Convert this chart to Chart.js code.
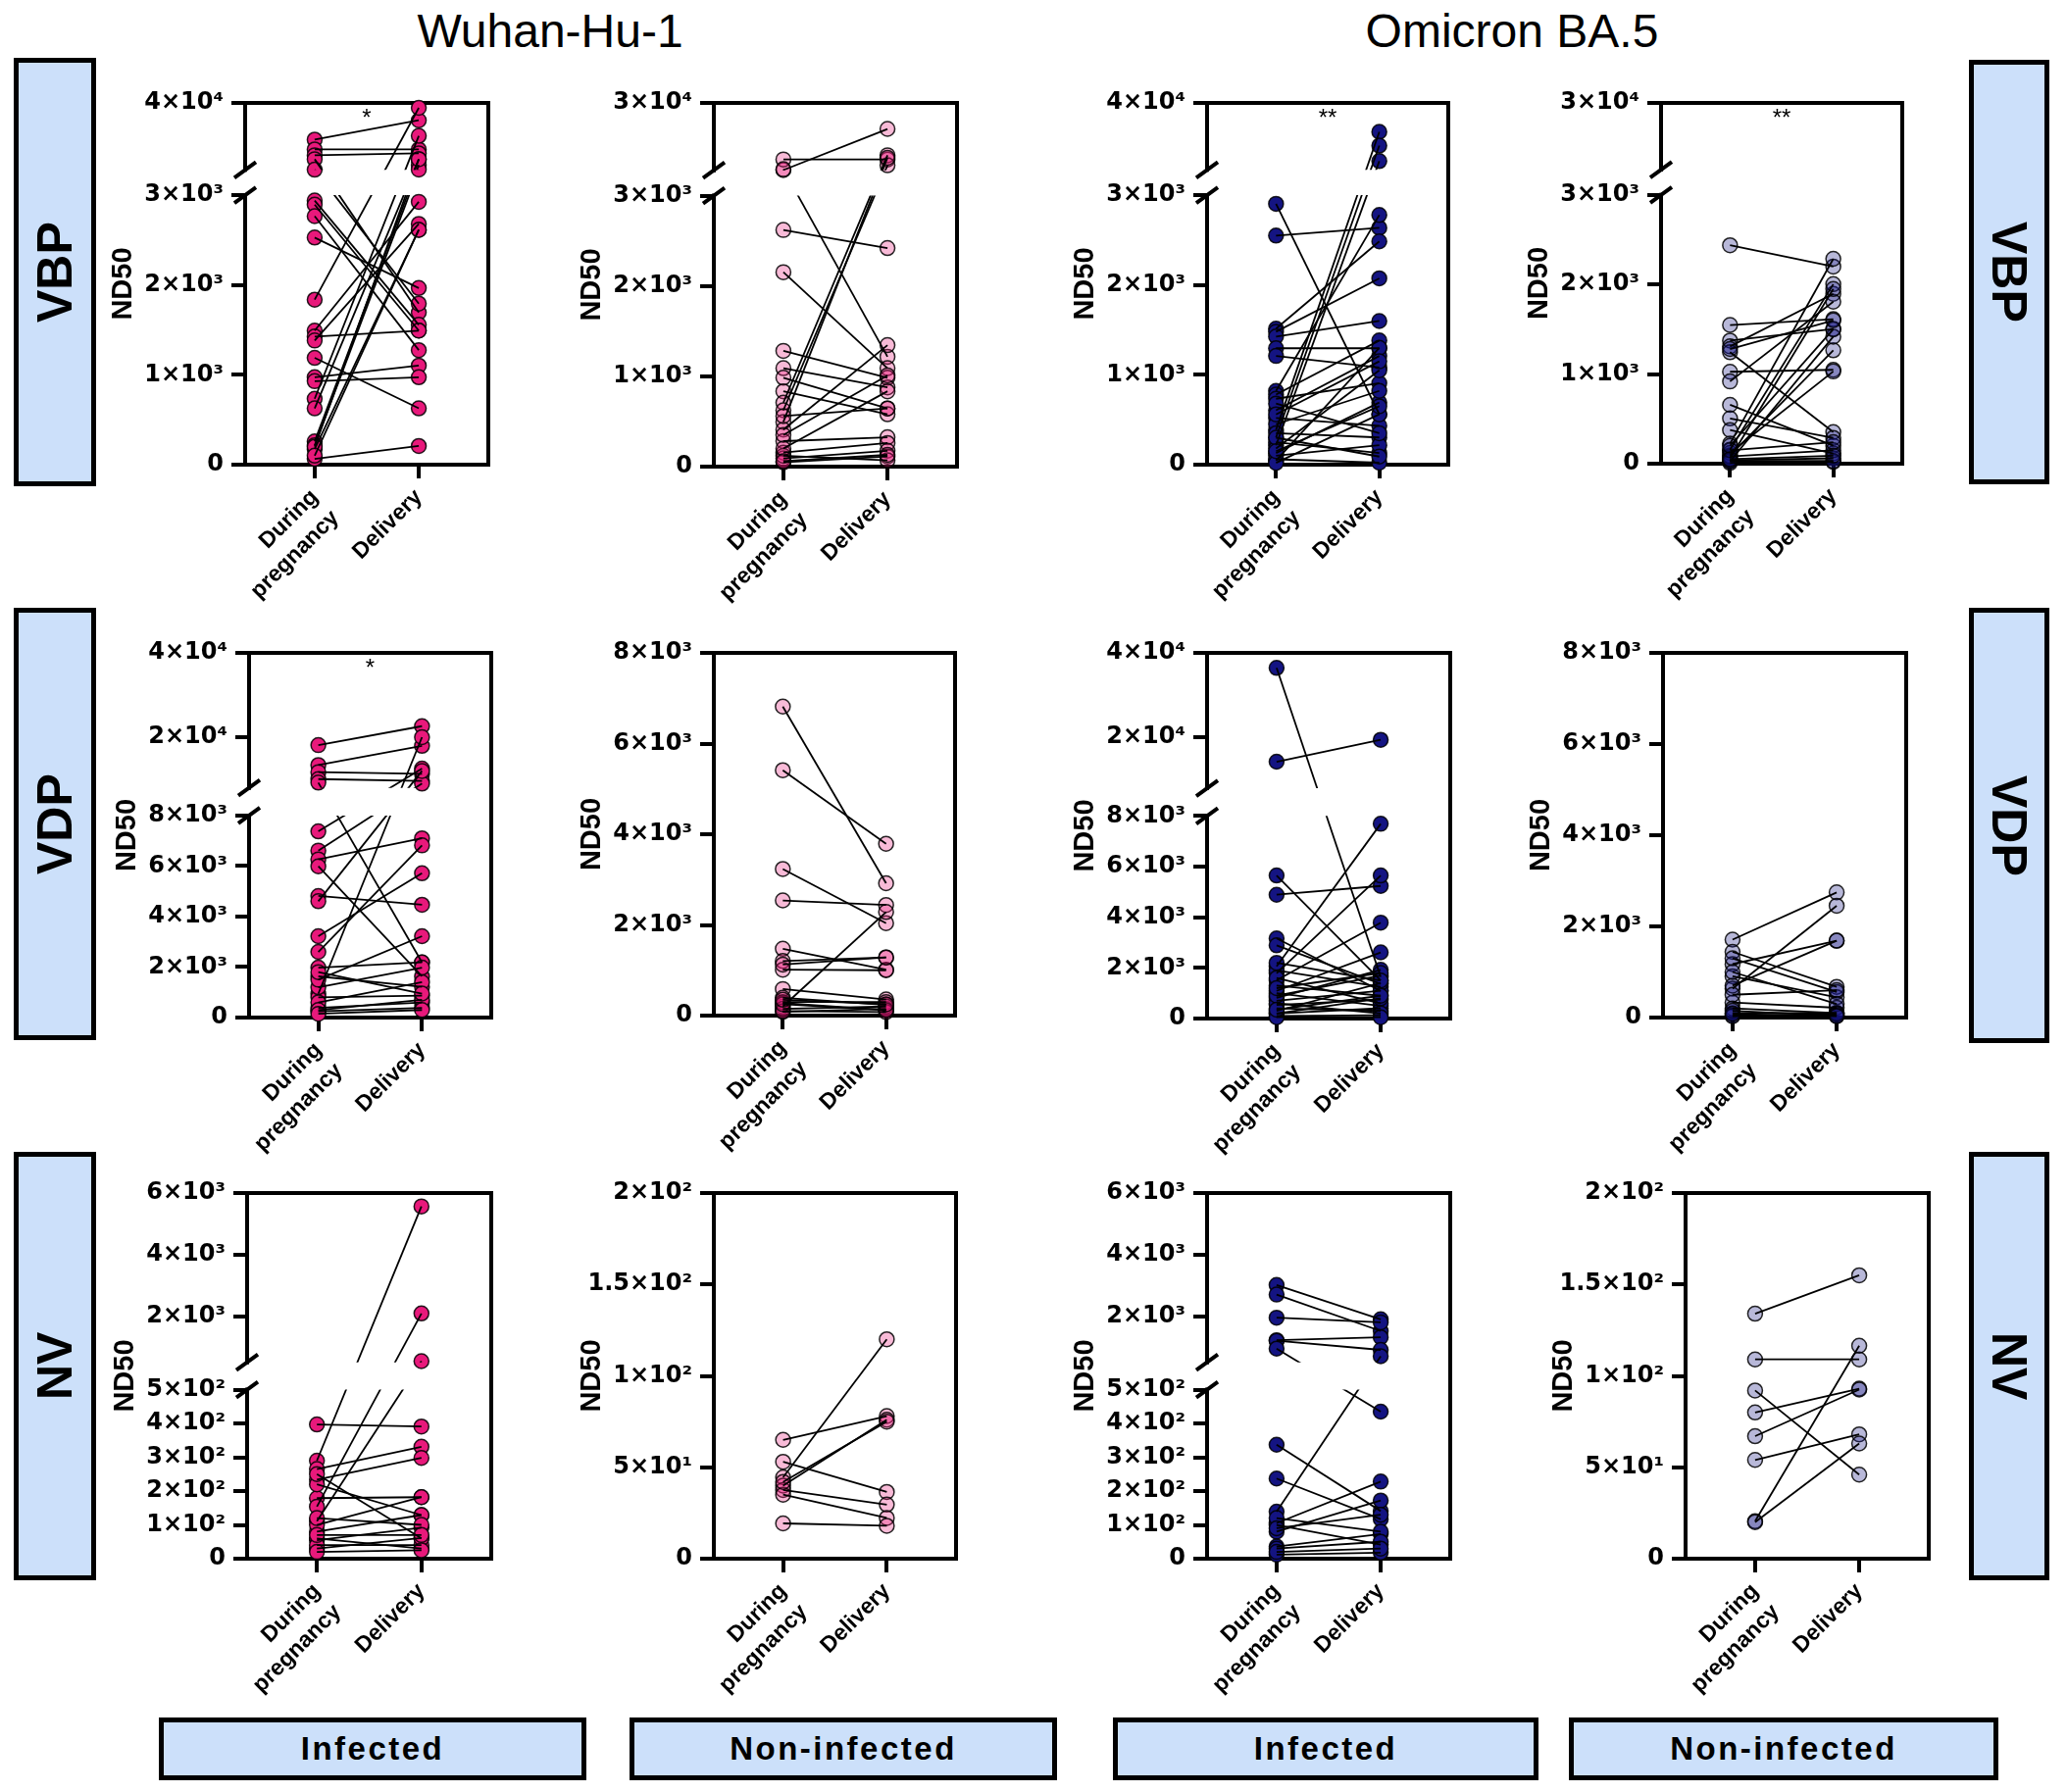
<!DOCTYPE html>
<html>
<head>
<meta charset="utf-8">
<script src="https://cdn.jsdelivr.net/npm/chart.js@4.4.1/dist/chart.umd.min.js"></script>
<style>
  body { margin: 0; background: #fff; width: 2108px; height: 1828px; position: relative; overflow: hidden;
         font-family: "Liberation Sans", Arial, sans-serif; color: #000; }
  .title { position: absolute; top: 8px; width: 600px; font-size: 48px; line-height: 48px; text-align: center; }
  .rowlab { position: absolute; border: 5px solid #000; box-sizing: border-box; background: #cce0fa;
            display: flex; align-items: center; justify-content: center; font-weight: bold; font-size: 50px;
            writing-mode: vertical-rl; }
  .rowlab.left { transform: rotate(180deg); }
  .collab { position: absolute; top: 1752px; height: 64px; border: 5px solid #000; box-sizing: border-box;
            background: #cce0fa; display: flex; align-items: center; justify-content: center;
            font-weight: bold; font-size: 33px; letter-spacing: 2.5px; }
  canvas { position: absolute; }
</style>
</head>
<body>
<div class="title" style="left:261px">Wuhan-Hu-1</div>
<div class="title" style="left:1242px">Omicron BA.5</div>

<div class="rowlab left" style="left:14px;top:59px;width:84px;height:437px">VBP</div>
<div class="rowlab left" style="left:14px;top:620px;width:84px;height:441px">VDP</div>
<div class="rowlab left" style="left:14px;top:1175px;width:84px;height:437px">NV</div>
<div class="rowlab" style="left:2008px;top:61px;width:82px;height:433px">VBP</div>
<div class="rowlab" style="left:2008px;top:620px;width:82px;height:444px">VDP</div>
<div class="rowlab" style="left:2008px;top:1175px;width:82px;height:437px">NV</div>

<div class="collab" style="left:162px;width:436px">Infected</div>
<div class="collab" style="left:642px;width:436px">Non-infected</div>
<div class="collab" style="left:1135px;width:434px">Infected</div>
<div class="collab" style="left:1600px;width:438px">Non-infected</div>

<script>
// categorías del eje x
const categories = [["During", "pregnancy"], "Delivery"];

// ticks del eje y
const ticksVbpInf = [0, 1000, 2000, 3000, 40000];
const ticksVbpNon = [0, 1000, 2000, 3000, 30000];
const ticksVdpInf = [0, 2000, 4000, 6000, 8000, 20000, 40000];
const ticksVdpNon = [0, 2000, 4000, 6000, 8000];
const ticksNvInf = [0, 100, 200, 300, 400, 500, 2000, 4000, 6000];
const ticksNvNon = [0, 50, 100, 150, 200];

// ND50 pareados (mismo índice = misma persona)
const wuhanVbpInfPreg = [19700, 14300, 11060, 8900, 3100, 2940, 2895, 2766, 2528, 1837, 1492, 1426, 1382, 1189, 973, 929, 734, 627, 259, 216, 173, 65, 200, 100];
const wuhanVbpInfDel  = [30400, 14300, 12140, 1694, 1793, 1557, 1492, 1275, 1966, 37300, 2926, 1492, 2680, 627, 1103, 973, 21800, 8900, 5700, 3200, 2614, 208, 8900, 2614];

const wuhanVbpNonPreg = [3050, 7330, 3400, 2620, 2153, 1282, 1090, 984, 834, 708, 624, 495, 410, 282, 155, 91, 48, 120, 560, 350, 200, 60];
const wuhanVbpNonDel  = [19560, 7300, 1217, 2420, 1090, 984, 877, 644, 580, 9000, 5000, 8000, 1345, 325, 261, 176, 112, 70, 644, 1010, 834, 130];

const omicronVbpInfPreg = [2904, 2550, 1514, 1480, 1426, 1296, 1210, 821, 780, 734, 605, 519, 389, 303, 216, 130, 44, 450, 350, 250, 100, 60, 180, 680, 560, 20, 300, 150];
const omicronVbpInfDel  = [562, 2636, 2485, 2074, 1599, 1296, 1081, 2779, 1382, 908, 1210, 433, 24000, 16400, 7840, 692, 1300, 821, 303, 130, 216, 22, 1050, 350, 1150, 560, 90, 650];

const omicronVbpNonPreg = [2438, 1548, 1374, 1309, 1244, 1026, 918, 657, 505, 375, 223, 157, 92, 27, 60, 120, 40, 10, 80, 30, 150, 200, 1280, 50];
const omicronVbpNonDel  = [2200, 1613, 1504, 1896, 353, 1048, 1809, 201, 288, 114, 2287, 2004, 1266, 1418, 1950, 1030, 60, 20, 150, 30, 240, 1500, 1600, 90];

const wuhanVdpInfPreg = [18120, 13400, 11720, 10070, 9230, 7372, 6613, 6264, 5989, 4815, 4606, 3223, 2600, 1976, 1631, 941, 802, 387, 248, 1200, 1500, 600, 300, 1800, 150];
const wuhanVdpInfDel  = [22620, 17960, 11300, 9650, 2185, 12560, 9000, 7097, 1631, 4467, 12000, 5714, 6818, 2185, 1216, 20000, 872, 593, 387, 1976, 3223, 1400, 700, 950, 300];

const wuhanVdpNonPreg = [6817, 5412, 3234, 2540, 1474, 1204, 1012, 200, 586, 394, 277, 84, 1126, 300, 150, 100, 250, 350];
const wuhanVdpNonDel  = [2919, 3790, 2039, 2439, 1012, 1282, 1000, 2285, 355, 238, 123, 150, 1282, 300, 200, 80, 120, 250];

const omicronVdpInfPreg = [36450, 14260, 5650, 4889, 3165, 2891, 2060, 1786, 1507, 1094, 819, 541, 197, 1900, 1300, 1000, 700, 300, 100, 400, 1600, 600, 900, 200, 50, 1200, 2200, 350];
const omicronVdpInfDel  = [1646, 19440, 1507, 5236, 1094, 1372, 7690, 5650, 3787, 2612, 1924, 750, 406, 1250, 900, 500, 1100, 1400, 128, 300, 600, 200, 1700, 800, 50, 1800, 1500, 900];

const omicronVdpNonPreg = [1709, 1441, 1172, 904, 636, 329, 99, 1300, 700, 500, 200, 50, 1000, 150, 30, 80];
const omicronVdpNonDel  = [2745, 674, 1686, 445, 2453, 215, 99, 560, 1686, 600, 100, 60, 300, 40, 80, 30];

const wuhanNvInfPreg = [397, 290, 265, 234, 179, 154, 111, 80, 55, 30, 220, 100, 60, 40, 120, 250, 20, 70];
const wuhanNvInfDel  = [391, 5566, 331, 298, 182, 2088, 538, 129, 92, 61, 129, 182, 30, 40, 100, 60, 25, 70];

const wuhanNvNonPreg = [65, 53, 44.5, 40, 37.6, 35, 19.3, 42];
const wuhanNvNonDel  = [78, 36.5, 120, 76, 29.6, 22.3, 18, 75];

const omicronNvInfPreg = [3012, 2700, 1951, 1217, 1200, 946, 337, 237, 139, 105, 80, 36, 12, 100, 120, 30, 90, 20];
const omicronNvInfDel  = [1897, 1517, 1800, 1313, 905, 435, 141, 117, 700, 228, 172, 73, 18, 42, 80, 50, 130, 30];

const omicronNvNonPreg = [134, 109, 92, 80, 67, 54, 20.5, 20];
const omicronNvNonDel  = [155, 109, 46, 93, 92.5, 68, 116.5, 63];

const PINK = "232,25,123";
const NAVY = "20,20,130";

// eje y con corte: tramo bajo [min, at] y tramo alto [at, max]
class BrokenLinearScale extends Chart.LinearScale {
  getPixelForValue(value) {
    const brk = this.options.brk;
    if (!brk || value === null || value === undefined) return super.getPixelForValue(value);
    let dec;
    if (value <= brk.at) dec = (value - this.min) / (brk.at - this.min) * brk.lowTop;
    else dec = brk.upBottom + (value - brk.at) / (this.max - brk.at) * (1 - brk.upBottom);
    return this.getPixelForDecimal(dec);
  }
  getValueForPixel(pixel) {
    const brk = this.options.brk;
    if (!brk) return super.getValueForPixel(pixel);
    const dec = this.getDecimalForPixel(pixel);
    if (dec <= brk.lowTop) return this.min + dec / brk.lowTop * (brk.at - this.min);
    return brk.at + (dec - brk.upBottom) / (1 - brk.upBottom) * (this.max - brk.at);
  }
}
BrokenLinearScale.id = "brokenLinear";
BrokenLinearScale.defaults = {};
Chart.register(BrokenLinearScale);

const SUP = { "0": "\u2070", "1": "\u00b9", "2": "\u00b2", "3": "\u00b3", "4": "\u2074", "5": "\u2075", "6": "\u2076" };
function sci(v) {
  if (v === 0) return "0";
  const e = Math.floor(Math.log10(v) + 1e-9);
  const m = +(v / Math.pow(10, e)).toFixed(2);
  return m + "\u00d710" + String(e).split("").map(c => SUP[c]).join("");
}

// marco, corte del eje y asteriscos
const framePlugin = {
  id: "frame",
  beforeDatasetsDraw(chart, args, opts) {
    const { ctx, chartArea: a } = chart;
    const y = chart.scales.y;
    const brk = y.options.brk;
    ctx.save();
    ctx.strokeStyle = "#000";
    ctx.lineWidth = 4;
    ctx.lineCap = "square";
    ctx.beginPath();
    ctx.moveTo(a.left, a.top);
    ctx.lineTo(a.right, a.top);
    ctx.lineTo(a.right, a.bottom);
    ctx.lineTo(a.left, a.bottom);
    if (brk) {
      const lo = y.getPixelForDecimal(brk.lowTop);
      const up = y.getPixelForDecimal(brk.upBottom);
      ctx.lineTo(a.left, lo);
      ctx.moveTo(a.left, up);
      ctx.lineTo(a.left, a.top);
      ctx.stroke();
      ctx.lineCap = "butt";
      ctx.beginPath();
      [lo, up].forEach(p => { ctx.moveTo(a.left - 11, p + 8); ctx.lineTo(a.left + 11, p - 8); });
    } else {
      ctx.lineTo(a.left, a.top);
    }
    ctx.stroke();
    if (opts.star) {
      ctx.fillStyle = "#000";
      ctx.font = '24px "Liberation Sans"';
      ctx.textAlign = "center";
      ctx.textBaseline = "top";
      ctx.fillText(opts.star, (a.left + a.right) / 2, a.top + 4);
    }
    ctx.restore();
  },
  beforeDatasetDraw(chart, args) {
    const ds = chart.data.datasets[args.index];
    const y = chart.scales.y;
    const brk = y.options.brk;
    if (!ds.link || !brk) return;
    const lo = y.getPixelForDecimal(brk.lowTop);
    const up = y.getPixelForDecimal(brk.upBottom);
    const ctx = chart.ctx;
    ctx.save();
    ctx.beginPath();
    ctx.rect(0, 0, chart.width, up);
    ctx.rect(0, lo, chart.width, chart.height - lo);
    ctx.clip();
  },
  afterDatasetDraw(chart, args) {
    const ds = chart.data.datasets[args.index];
    if (ds.link && chart.scales.y.options.brk) chart.ctx.restore();
  }
};

const PADL = 150, PADT = 30, PADR = 30, PADB = 140;
const tickGrid = { display: true, drawOnChartArea: false, drawTicks: true, tickLength: 14, lineWidth: 4, color: "#000" };

function crearPanel(box, preg, del, ticks, max, brk, rgb, alpha, star) {
  const w = box.r - box.l + PADL + PADR;
  const h = box.b - box.t + PADT + PADB;
  const canvas = document.createElement("canvas");
  canvas.width = w;
  canvas.height = h;
  canvas.style.left = (box.l - PADL) + "px";
  canvas.style.top = (box.t - PADT) + "px";
  canvas.style.width = w + "px";
  canvas.style.height = h + "px";
  document.body.appendChild(canvas);

  const fill = "rgba(" + rgb + "," + alpha + ")";
  const links = preg.map((v, i) => ({
    link: true,
    data: [{ x: 0, y: v }, { x: 1, y: del[i] }],
    showLine: true,
    borderColor: "#000",
    borderWidth: 1.8,
    pointRadius: 0,
    order: 1
  }));
  const dots = [preg, del].map((arr, k) => ({
    data: arr.map(v => ({ x: k, y: v })),
    pointRadius: 7.5,
    pointBackgroundColor: fill,
    pointBorderColor: "rgba(0,0,0,0.85)",
    pointBorderWidth: 1.5,
    clip: false,
    order: 2
  }));

  new Chart(canvas, {
    type: "scatter",
    data: { datasets: dots.concat(links) },
    options: {
      responsive: false,
      animation: false,
      events: [],
      layout: { padding: { left: 0, top: PADT, right: PADR, bottom: 0 } },
      plugins: { legend: { display: false }, tooltip: { enabled: false }, frame: { star: star } },
      scales: {
        x: {
          type: "linear", min: -0.668, max: 1.668,
          afterBuildTicks: s => { s.ticks = categories.map((c, i) => ({ value: i })); },
          afterFit: s => { s.height = PADB; },
          ticks: {
            autoSkip: false, minRotation: 45, maxRotation: 45, padding: 5, color: "#000",
            font: { family: '"Liberation Sans", Arial', size: 23, weight: "bold", lineHeight: 1.3 },
            callback: v => categories[v]
          },
          grid: tickGrid,
          border: { display: false }
        },
        y: {
          type: "brokenLinear", min: 0, max: max, brk: brk,
          afterBuildTicks: s => { s.ticks = ticks.map(v => ({ value: v })); },
          afterFit: s => { s.width = PADL; },
          ticks: {
            autoSkip: false, padding: 8, color: "#000",
            font: { family: '"DejaVu Sans"', size: 24, weight: "bold" },
            callback: v => sci(v)
          },
          grid: tickGrid,
          border: { display: false },
          title: {
            display: true, text: "ND50", color: "#000",
            font: { family: '"Liberation Sans", Arial', size: 29, weight: "bold" },
            padding: { top: 9, bottom: 0 }
          }
        }
      }
    },
    plugins: [framePlugin]
  });
}

const brkVbp = { at: 3000, lowTop: 0.745, upBottom: 0.815 };
const brkVdp = { at: 8000, lowTop: 0.554, upBottom: 0.63 };
const brkNv = { at: 500, lowTop: 0.4623, upBottom: 0.537 };

// fila VBP
crearPanel({ l: 250, r: 498, t: 105, b: 474 }, wuhanVbpInfPreg, wuhanVbpInfDel, ticksVbpInf, 40000, brkVbp, PINK, 1, "*");
crearPanel({ l: 728, r: 976, t: 105, b: 476 }, wuhanVbpNonPreg, wuhanVbpNonDel, ticksVbpNon, 30000, brkVbp, PINK, 0.3, "");
crearPanel({ l: 1231, r: 1477, t: 105, b: 474 }, omicronVbpInfPreg, omicronVbpInfDel, ticksVbpInf, 40000, brkVbp, NAVY, 1, "**");
crearPanel({ l: 1694, r: 1940, t: 105, b: 473 }, omicronVbpNonPreg, omicronVbpNonDel, ticksVbpNon, 30000, brkVbp, NAVY, 0.3, "**");
// fila VDP
crearPanel({ l: 254, r: 501, t: 666, b: 1038 }, wuhanVdpInfPreg, wuhanVdpInfDel, ticksVdpInf, 40000, brkVdp, PINK, 1, "*");
crearPanel({ l: 728, r: 974, t: 666, b: 1036 }, wuhanVdpNonPreg, wuhanVdpNonDel, ticksVdpNon, 8000, null, PINK, 0.3, "");
crearPanel({ l: 1231, r: 1479, t: 666, b: 1039 }, omicronVdpInfPreg, omicronVdpInfDel, ticksVdpInf, 40000, brkVdp, NAVY, 1, "");
crearPanel({ l: 1696, r: 1944, t: 666, b: 1038 }, omicronVdpNonPreg, omicronVdpNonDel, ticksVdpNon, 8000, null, NAVY, 0.3, "");
// fila NV
crearPanel({ l: 252, r: 501, t: 1217, b: 1590 }, wuhanNvInfPreg, wuhanNvInfDel, ticksNvInf, 6000, brkNv, PINK, 1, "");
crearPanel({ l: 728, r: 975, t: 1217, b: 1590 }, wuhanNvNonPreg, wuhanNvNonDel, ticksNvNon, 200, null, PINK, 0.3, "");
crearPanel({ l: 1231, r: 1479, t: 1217, b: 1590 }, omicronNvInfPreg, omicronNvInfDel, ticksNvInf, 6000, brkNv, NAVY, 1, "");
crearPanel({ l: 1719, r: 1967, t: 1217, b: 1590 }, omicronNvNonPreg, omicronNvNonDel, ticksNvNon, 200, null, NAVY, 0.3, "");
</script>
</body>
</html>
